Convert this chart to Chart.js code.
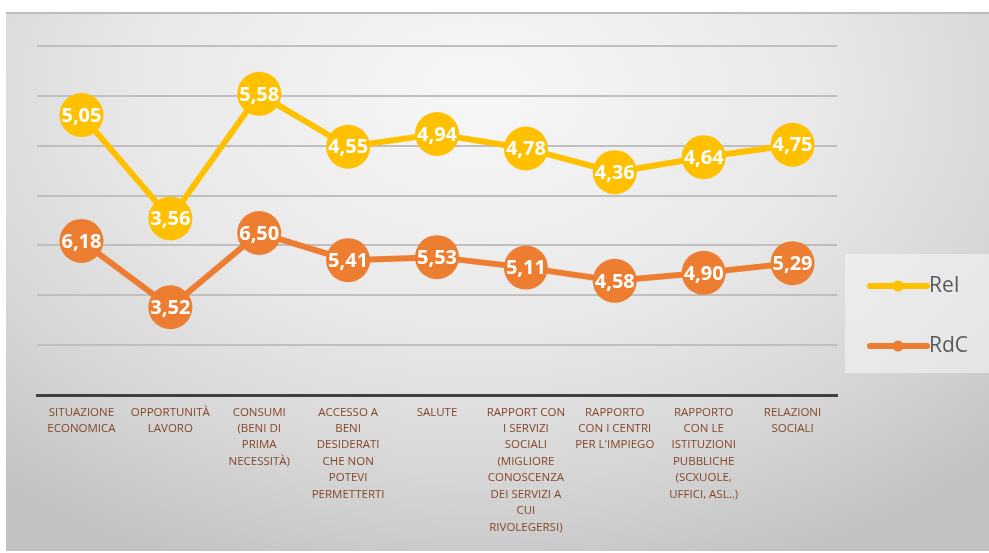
<!DOCTYPE html>
<html>
<head>
<meta charset="utf-8">
<script src="https://cdn.jsdelivr.net/npm/chart.js@4/dist/chart.umd.min.js"></script>
<style>
  html, body { margin: 0; padding: 0; background: #fff; }
  #panel {
    position: absolute; left: 6px; top: 12px; width: 983px; height: 537px;
    border-top: 2px solid #bcbcbc;
    background: radial-gradient(ellipse 75% 95% at 48% 15%, #f7f7f7 0%, #e9e9e9 45%, #d6d6d6 75%, #c2c2c2 100%);
  }
  canvas { display: block; }
</style>
</head>
<body>
<div id="panel"><canvas id="chart" width="983" height="537"></canvas></div>
<script>
// categorie sull'asse X (già spezzate su più righe)
const categories = [
    ["SITUAZIONE", "ECONOMICA"],
    ["OPPORTUNITÀ", "LAVORO"],
    ["CONSUMI", "(BENI DI", "PRIMA", "NECESSITÀ)"],
    ["ACCESSO A", "BENI", "DESIDERATI", "CHE NON", "POTEVI", "PERMETTERTI"],
    ["SALUTE"],
    ["RAPPORT CON", "I SERVIZI", "SOCIALI", "(MIGLIORE", "CONOSCENZA", "DEI SERVIZI A", "CUI", "RIVOLEGERSI)"],
    ["RAPPORTO", "CON I CENTRI", "PER L'IMPIEGO"],
    ["RAPPORTO", "CON LE", "ISTITUZIONI", "PUBBLICHE", "(SCXUOLE,", "UFFICI, ASL..)"],
    ["RELAZIONI", "SOCIALI"]
];
const rdcValues = [6.18, 3.52, 6.50, 5.41, 5.53, 5.11, 4.58, 4.90, 5.29];
const reiValues = [5.05, 3.56, 5.58, 4.55, 4.94, 4.78, 4.36, 4.64, 4.75];
const yTicks = { min: 0, max: 14, step: 2 };

const YELLOW = "#ffc000";
const ORANGE = "#ed7d31";

// --- valori dentro i cerchi ---
const valueLabels = {
    id: "valueLabels",
    afterDatasetsDraw(chart) {
        const ctx = chart.ctx;
        ctx.save();
        ctx.font = "bold 20px 'Open Sans'";
        ctx.fillStyle = "#ffffff";
        ctx.textAlign = "center";
        ctx.textBaseline = "middle";
        chart.data.datasets.forEach((ds, di) => {
            chart.getDatasetMeta(di).data.forEach((pt, i) => {
                ctx.fillText(ds.data[i].toFixed(2).replace(".", ","), pt.x, pt.y + 1);
            });
        });
        ctx.restore();
    }
};

// --- legenda a destra ---
const sideLegend = {
    id: "sideLegend",
    afterDraw(chart) {
        const ctx = chart.ctx;
        ctx.save();
        ctx.fillStyle = "rgba(245,245,245,0.6)";
        ctx.fillRect(839, 240, 144, 119);
        // ReI in alto, RdC sotto
        const order = [1, 0];
        order.forEach((di, k) => {
            const ds = chart.data.datasets[di];
            const y = 272 + k * 60;
            ctx.strokeStyle = ds.borderColor;
            ctx.lineWidth = 6;
            ctx.lineCap = "round";
            ctx.beginPath();
            ctx.moveTo(864, y);
            ctx.lineTo(921, y);
            ctx.stroke();
            ctx.fillStyle = ds.borderColor;
            ctx.beginPath();
            ctx.arc(892, y, 5.5, 0, Math.PI * 2);
            ctx.fill();
            ctx.fillStyle = "#595959";
            ctx.font = "21px 'Open Sans'";
            ctx.textBaseline = "middle";
            ctx.fillText(ds.label, 923, y);
        });
        ctx.restore();
    }
};

new Chart(document.getElementById("chart"), {
    type: "line",
    data: {
        labels: categories,
        datasets: [
            {
                label: "RdC",
                data: rdcValues,
                borderColor: ORANGE,
                backgroundColor: ORANGE,
                borderWidth: 6,
                pointRadius: 22,
                pointHoverRadius: 22,
                pointBorderWidth: 0,
                fill: false
            },
            {
                label: "ReI",
                data: reiValues,
                borderColor: YELLOW,
                backgroundColor: YELLOW,
                borderWidth: 6,
                pointRadius: 22,
                pointHoverRadius: 22,
                pointBorderWidth: 0,
                fill: false
            }
        ]
    },
    options: {
        responsive: false,
        animation: false,
        layout: { padding: { left: 31, right: 152, top: 32, bottom: 0 } },
        plugins: {
            legend: { display: false },
            tooltip: { enabled: false }
        },
        scales: {
            x: {
                offset: true,
                grid: { display: false, drawTicks: false },
                border: { display: true, color: "#404040", width: 3 },
                ticks: {
                    maxRotation: 0,
                    autoSkip: false,
                    padding: 9,
                    color: "#85472a",
                    font: { family: "'Open Sans'", size: 11.5, lineHeight: 1.43 }
                },
                afterFit(scale) { scale.height = 156; }
            },
            y: {
                stacked: true,
                min: yTicks.min,
                max: yTicks.max,
                ticks: { display: false, stepSize: yTicks.step },
                grid: { color: "#bfbfbf", lineWidth: 2, drawTicks: false },
                border: { display: false },
                afterFit(scale) { scale.width = 0; }
            }
        }
    },
    plugins: [valueLabels, sideLegend]
});
</script>
</body>
</html>
